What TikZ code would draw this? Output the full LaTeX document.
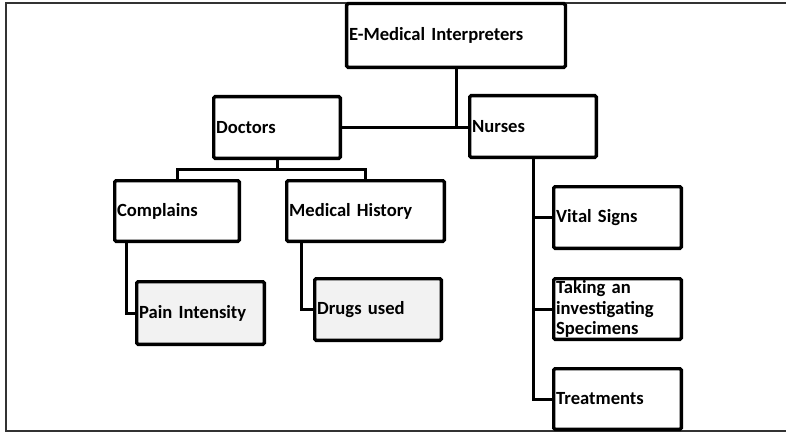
\documentclass[tikz,border=0pt]{standalone}
\usepackage{fontspec}
\setmainfont{Carlito}[WordSpace=0.5]
\begin{document}
\begin{tikzpicture}[x=1pt,y=-1pt,
  box/.style={draw=black, line width=3.3pt, rounded corners=1.5pt, fill=white,
    align=left, inner xsep=2.5pt, inner ysep=0.5pt, font=\bfseries\fontsize{18.6}{20.7}\selectfont,
    anchor=center},
  shaded/.style={box, fill=black!5},
  conn/.style={draw=black, line width=3pt},
  frame/.style={draw=black!80, line width=1.5pt}]
\useasboundingbox (0,0) rectangle (786,433);
\clip (0,0) rectangle (786,433);
\draw[frame] (6,3) rectangle (800,431);

\node[box, minimum width=218.8pt, minimum height=63.8pt, text width=213.8pt] (top) at (456,35.5) {E-Medical Interpreters};
\node[box, minimum width=126.7pt, minimum height=61.7pt, text width=121.7pt] (doctors) at (277,127.5) {Doctors};
\node[box, minimum width=126.7pt, minimum height=61.7pt, text width=121.7pt] (nurses) at (533,126.5) {Nurses};
\node[box, minimum width=124.7pt, minimum height=60.7pt, text width=119.7pt] (complains) at (177,211) {Complains};
\node[box, minimum width=157.7pt, minimum height=60.7pt, text width=152.7pt] (medhist) at (365.5,211) {Medical History};
\node[shaded, minimum width=127.7pt, minimum height=62.7pt, text width=122.7pt] (pain) at (200.5,313) {Pain Intensity};
\node[shaded, minimum width=126.7pt, minimum height=61.7pt, text width=121.7pt] (drugs) at (378,309.5) {Drugs used};
\node[box, minimum width=127.7pt, minimum height=61.7pt, text width=122.7pt] (vital) at (617.5,217.5) {Vital Signs};
\node[box, minimum width=127.7pt, minimum height=60.7pt, text width=122.7pt] (taking) at (617.5,309) {Taking an\\investigating\\Specimens};
\node[box, minimum width=127.7pt, minimum height=60.7pt, text width=122.7pt] (treat) at (617.5,399) {Treatments};

% connectors
\draw[conn] (top.south) -- (top.south |- doctors.east);
\draw[conn] (doctors.east) -- (doctors.east -| nurses.west);
\draw[conn] (doctors.south) -- ++(0,9.5) coordinate (dj);
\draw[conn] (complains.north) |- (dj) -| (medhist.north);
\draw[conn] ([xshift=13.5pt]complains.south west) |- (pain.west);
\draw[conn] ([xshift=16.5pt]medhist.south west) |- (drugs.west);
\draw[conn] (nurses.south) |- (treat.west);
\draw[conn] (nurses.south |- vital.west) -- (vital.west);
\draw[conn] (nurses.south |- taking.west) -- (taking.west);
\end{tikzpicture}
\end{document}
